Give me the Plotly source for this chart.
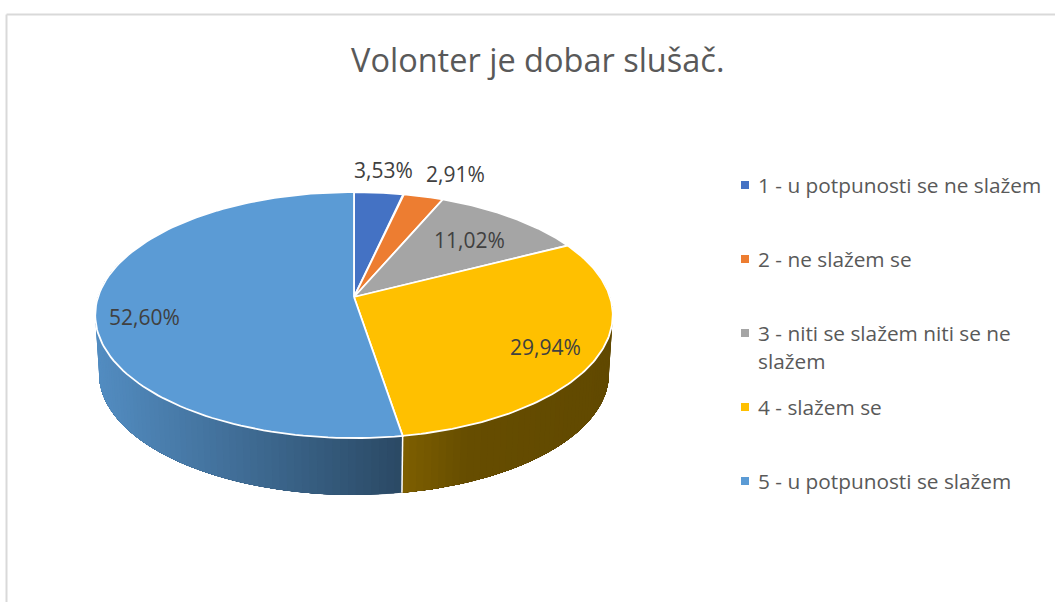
import numpy as np
import plotly.graph_objects as go

CATEGORIES = [
    "1 - u potpunosti se ne slažem",
    "2 - ne slažem se",
    "3 - niti se slažem niti se ne\nslažem",
    "4 - slažem se",
    "5 - u potpunosti se slažem",
]
VALUES = [3.53, 2.91, 11.02, 29.94, 52.60]
COLORS = ["#4472C4", "#ED7D31", "#A5A5A5", "#FFC000", "#5B9BD5"]

# hand placed labels, same as the original chart (pixel positions)
LABEL_X = [383, 455, 469, 545, 144.5]
LABEL_Y = [170, 174, 240, 347, 317]
LEGEND_Y = [185, 259, 333, 407, 481]

TEXT = "#404040"
MUTED = "#595959"
FONT = "Open Sans, sans-serif"

# pie projection: tilted disc with some perspective
CX, CY = 354, 297
RX, RY, PERSP = 256, 120.4, 0.1465
DEPTH, BOTTOM_SCALE = 59, 0.985


def rim(theta, scale=1.0, dy=0.0):
    u, v = np.sin(theta), np.cos(theta)
    w = 1 + PERSP * v
    return CX + RX * scale * u / w, CY + dy - RY * scale * v / w


def shade(hex_color, x, index):
    r, g, b = (int(hex_color[i:i + 2], 16) for i in (1, 3, 5))
    if index == 4:  # blue side gets darker to the right
        f = np.interp(x, [100, 403], [0.90, 0.46])
    else:
        f = np.interp(x, [403, 470, 612], [0.50, 0.40, 0.38])
    return f"rgb({r * f:.0f},{g * f:.0f},{b * f:.0f})"


fig = go.Figure()
edges = np.cumsum([0] + VALUES) / sum(VALUES) * 2 * np.pi

# side wall first, the top covers whatever is behind it
# each band runs to the end of the slice so no gaps show between bands
for i, color in enumerate(COLORS):
    steps = np.arange(edges[i], edges[i + 1], np.radians(1.5))
    steps = steps[np.cos(steps) < 0.3]
    if len(steps) == 0:
        continue
    last = min(edges[i + 1], steps[-1] + np.radians(1.5))
    for a in steps:
        t = np.linspace(a, last, 60)
        x1, y1 = rim(t)
        x2, y2 = rim(t[::-1], BOTTOM_SCALE, DEPTH)
        fig.add_scatter(
            x=np.r_[x1, x2], y=np.r_[y1, y2], mode="lines", fill="toself",
            fillcolor=shade(color, x1[:3].mean(), i), line=dict(width=0),
            hoverinfo="skip", showlegend=False,
        )

# white seam between the two visible side pieces
seam_top = rim(edges[4])
seam_bottom = rim(edges[4], BOTTOM_SCALE, DEPTH)
fig.add_scatter(
    x=[seam_top[0], seam_bottom[0]], y=[seam_top[1], seam_bottom[1]], mode="lines",
    line=dict(color="white", width=1.5), hoverinfo="skip", showlegend=False,
)

# top slices
for i, color in enumerate(COLORS):
    t = np.linspace(edges[i], edges[i + 1], 120)
    x, y = rim(t)
    fig.add_scatter(
        x=np.r_[CX, x, CX], y=np.r_[CY, y, CY], mode="lines", fill="toself",
        fillcolor=color, line=dict(color="white", width=1.8),
        name=CATEGORIES[i].replace("\n", " "), showlegend=False,
        hovertemplate=f"{VALUES[i]:.2f}%<extra></extra>".replace(".", ","),
    )

# legend squares
fig.add_scatter(
    x=[745] * len(COLORS), y=LEGEND_Y, mode="markers",
    marker=dict(symbol="square", size=8, color=COLORS), hoverinfo="skip", showlegend=False,
)

for value, x, y in zip(VALUES, LABEL_X, LABEL_Y):
    fig.add_annotation(
        x=x, y=y, text=f"{value:.2f}%".replace(".", ","), showarrow=False,
        font=dict(family=FONT, size=21, color=TEXT),
    )

for label, y in zip(CATEGORIES, LEGEND_Y):
    for j, line in enumerate(label.split("\n")):
        fig.add_annotation(
            x=756, y=y + 28 * j, text=line, showarrow=False, xanchor="left",
            font=dict(family=FONT, size=20.8, color=MUTED),
        )

fig.add_annotation(
    x=537.5, y=59, text="Volonter je dobar slušač.", showarrow=False,
    font=dict(family=FONT, size=32.5, color=MUTED),
)

# chart frame, open at the right and bottom
fig.add_shape(type="line", x0=6.5, x1=6.5, y0=14.5, y1=602, line=dict(color="#D9D9D9", width=2))
fig.add_shape(type="line", x0=6.5, x1=1055, y0=14.5, y1=14.5, line=dict(color="#D9D9D9", width=2))

fig.update_layout(
    width=1055, height=602,
    margin=dict(l=0, r=0, t=0, b=0),
    paper_bgcolor="white", plot_bgcolor="white",
    showlegend=False,
)
fig.update_xaxes(range=[0, 1055], visible=False)
fig.update_yaxes(range=[602, 0], visible=False)

fig.write_html(
    "out.html",
    config=dict(displayModeBar=False),
    post_script="document.body.style.margin='0';document.body.style.overflow='hidden';",
)
